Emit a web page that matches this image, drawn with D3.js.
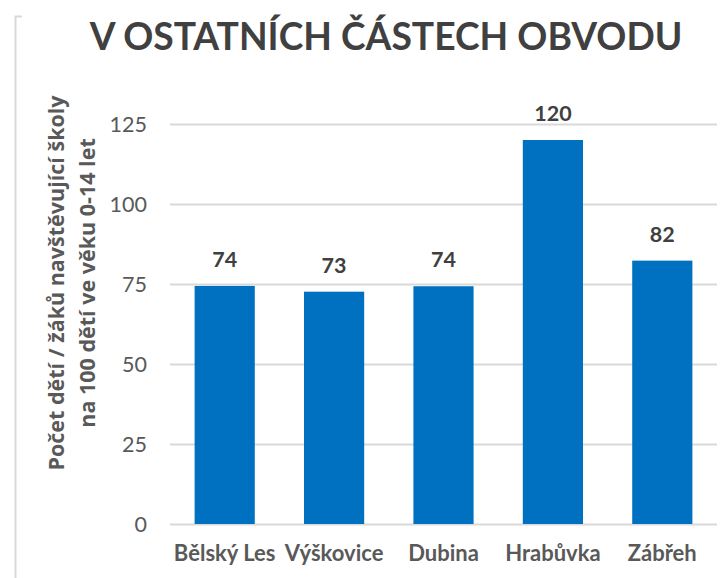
<!DOCTYPE html>
<html>
<head>
<meta charset="utf-8">
<script src="https://cdn.jsdelivr.net/npm/d3@7"></script>
<style>
  body { margin: 0; background: #fff; }
  svg text { font-family: Lato, "Open Sans", sans-serif; }
</style>
</head>
<body>
<div id="chart"></div>
<script>
// data
var districts = ["Bělský Les", "Výškovice", "Dubina", "Hrabůvka", "Zábřeh"];
var values = [74.4, 72.6, 74.3, 120.0, 82.3];
var yTicks = [0, 25, 50, 75, 100, 125];
var titleText = "V OSTATNÍCH ČÁSTECH OBVODU";
var yTitleLines = ["Počet dětí / žáků navštěvující školy", "na 100 dětí ve věku 0-14 let"];

var width = 726, height = 578;
var margin = {top: 124, right: 9, bottom: 54, left: 170};

var svg = d3.select("#chart").append("svg")
  .attr("width", width)
  .attr("height", height);

// frame edge on the left
svg.append("path")
  .attr("d", "M22,16.5H15.5V578")
  .attr("fill", "none")
  .attr("stroke", "#d9d9d9")
  .attr("stroke-width", 2);

var x = d3.scaleBand()
  .domain(districts)
  .range([margin.left, width - margin.right])
  .paddingInner(0.45)
  .paddingOuter(0.225);

var y = d3.scaleLinear()
  .domain([0, 125])
  .range([height - margin.bottom, margin.top]);

// gridlines
svg.append("g")
  .selectAll("line")
  .data(yTicks)
  .enter()
    .append("line")
    .attr("x1", margin.left)
    .attr("x2", width - margin.right)
    .attr("y1", function(d){ return Math.round(y(d)) + 0.5; })
    .attr("y2", function(d){ return Math.round(y(d)) + 0.5; })
    .attr("stroke", "#d9d9d9")
    .attr("stroke-width", 2);

// y tick labels
svg.append("g")
  .selectAll("text")
  .data(yTicks)
  .enter()
    .append("text")
    .attr("x", 147)
    .attr("y", function(d){ return y(d); })
    .attr("dy", "0.35em")
    .attr("text-anchor", "end")
    .attr("fill", "#595959")
    .style("font-size", "21.5px")
    .text(function(d){ return d; });

// bars
svg.append("g")
  .selectAll("rect")
  .data(values)
  .enter()
    .append("rect")
    .attr("x", function(d, i){ return x(districts[i]); })
    .attr("width", x.bandwidth())
    .attr("y", function(d){ return y(d); })
    .attr("height", function(d){ return y(0) - y(d); })
    .attr("fill", "#0070c0");

// value labels
svg.append("g")
  .selectAll("text")
  .data(values)
  .enter()
    .append("text")
    .attr("x", function(d, i){ return x(districts[i]) + x.bandwidth() / 2; })
    .attr("y", function(d){ return y(d) - 19; })
    .attr("text-anchor", "middle")
    .attr("fill", "#404040")
    .style("font-size", "21.5px")
    .style("font-weight", "bold")
    .text(function(d){ return Math.round(d); });

// x category labels
svg.append("g")
  .selectAll("text")
  .data(districts)
  .enter()
    .append("text")
    .attr("x", function(d){ return x(d) + x.bandwidth() / 2; })
    .attr("y", 561)
    .attr("text-anchor", "middle")
    .attr("fill", "#595959")
    .style("font-size", "22px")
    .style("font-weight", "bold")
    .text(function(d){ return d; });

// y axis title, two lines
svg.append("g")
  .selectAll("text")
  .data(yTitleLines)
  .enter()
    .append("text")
    .attr("transform", function(d, i){ return "translate(" + (64 + i * 31) + ",283) rotate(-90)"; })
    .attr("text-anchor", "middle")
    .attr("fill", "#595959")
    .style("font-family", "'Open Sans', sans-serif")
    .style("font-size", "21.5px")
    .style("font-weight", "bold")
    .text(function(d){ return d; });

// title, sized to the reference width
var title = svg.append("text")
  .attr("x", 386)
  .attr("y", 50)
  .attr("text-anchor", "middle")
  .attr("fill", "#404040")
  .style("font-size", "34px")
  .style("font-weight", "bold")
  .text(titleText);
var tw = title.node().getComputedTextLength();
title.style("font-size", (34 * 593 / tw) + "px");
</script>
</body>
</html>
